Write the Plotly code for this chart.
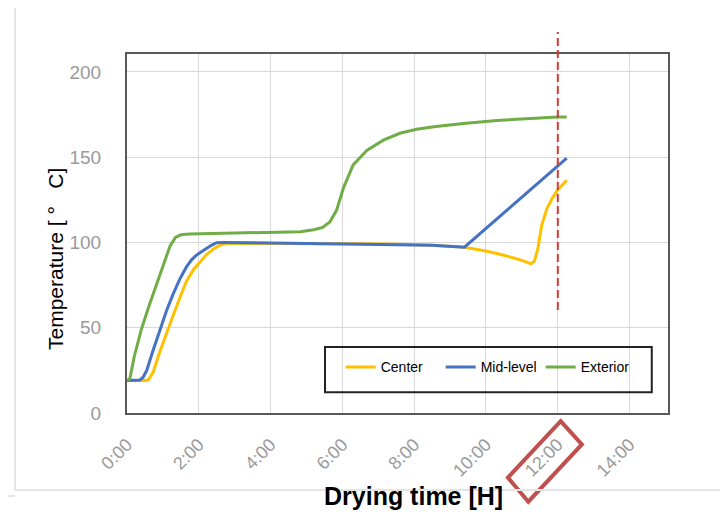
import plotly.graph_objects as go

# ---------------- data ----------------
center_t = [0, 0.3, 0.5, 0.6, 0.73, 0.9, 1.1, 1.3, 1.48, 1.65, 1.85, 2.05, 2.22, 2.4, 2.6, 2.8,
            3.5, 4.5, 5.5, 6.5, 7.5, 8.5, 9.4, 10.0, 10.5, 11.0, 11.25, 11.35, 11.45, 11.55,
            11.7, 11.85, 12.0, 12.25]
center_T = [19, 19, 19, 19.5, 24, 35, 47, 58, 68, 77, 84, 89, 93, 96, 98.5, 99.5,
            99.5, 99.5, 99.5, 99.3, 99, 98.3, 97.2, 95, 92.5, 89.5, 87.5, 89, 97, 110,
            120, 126, 131, 136.5]

mid_t = [0, 0.2, 0.36, 0.45, 0.55, 0.7, 0.92, 1.1, 1.29, 1.47, 1.66, 1.8, 1.94, 2.1, 2.22,
         2.35, 2.5, 2.7, 3.5, 4.5, 5.5, 6.5, 7.5, 8.5, 9.4, 12.25]
mid_T = [19, 19, 19.4, 21, 25, 35, 48.7, 60, 70, 78.5, 85.8, 89.8, 92.7, 95, 96.6,
         98.3, 99.9, 100, 99.8, 99.5, 99.5, 99.3, 99, 98.3, 97.2, 149.4]

ext_t = [0, 0.08, 0.2, 0.4, 0.6, 0.75, 1.0, 1.2, 1.35, 1.5, 1.75, 2.5, 3.5, 4.5, 4.82, 5.2,
         5.45, 5.65, 5.84, 6.03, 6.3, 6.68, 7.14, 7.6, 8.07, 8.6, 9.37, 10.3, 11.2, 12.0, 12.25]
ext_T = [19, 20, 33, 49, 62, 71, 86, 98, 103, 104.5, 105, 105.3, 105.5, 106, 106.3, 107.5,
         108.8, 112, 119, 132, 145.5, 154, 160, 164, 166.4, 168, 169.8, 171.5, 172.8, 173.6, 173.6]

series_names = ["Center", "Mid-level", "Exterior"]
x_tick_vals = [0, 2, 4, 6, 8, 10, 12, 14]
x_tick_text = ["0:00", "2:00", "4:00", "6:00", "8:00", "10:00", "12:00", "14:00"]
y_tick_vals = [0, 50, 100, 150, 200]
marker_hour = 12

# ---------------- figure ----------------
FONT = "Arial, Liberation Sans, sans-serif"
colors = ["#FFC000", "#4472C4", "#70AD47"]

fig = go.Figure()
for name, t, T, c in zip(series_names, [center_t, mid_t, ext_t], [center_T, mid_T, ext_T], colors):
    fig.add_trace(go.Scatter(x=t, y=T, mode="lines", name=name,
                             line=dict(color=c, width=3)))

# page body has an 8px margin, so plot area = page px 127..668 x 54..413
fig.update_layout(
    width=728, height=512,
    margin=dict(l=119, r=68, t=46, b=107),
    paper_bgcolor="white", plot_bgcolor="white",
    font=dict(family=FONT, color="black"),
    showlegend=True,
    legend=dict(orientation="h", x=0.395, y=0.127, xanchor="left", yanchor="middle",
                bgcolor="rgba(0,0,0,0)", borderwidth=0,
                font=dict(size=14, family=FONT, color="black"),
                entrywidth=55, itemwidth=30),
)

fig.update_xaxes(range=[0, 15.07], tickvals=x_tick_vals, ticktext=x_tick_text,
                 tickangle=-45, tickfont=dict(size=18, color="#9a9a9a", family=FONT),
                 showgrid=True, gridcolor="#d9d9d9", gridwidth=1,
                 showline=True, linecolor="#595959", linewidth=2, mirror=True,
                 ticks="", ticklabelstandoff=12, zeroline=False)
fig.update_yaxes(range=[0, 210.5], tickvals=y_tick_vals,
                 tickfont=dict(size=19, color="#9a9a9a", family=FONT),
                 showgrid=True, gridcolor="#d9d9d9", gridwidth=1,
                 showline=True, linecolor="#595959", linewidth=2, mirror=True,
                 ticks="", ticklabelstandoff=20, zeroline=False)

# y-axis title
fig.add_annotation(text="Temperature [\u00a0°\u00a0\u00a0\u00a0C]", xref="paper", yref="paper",
                   x=(55 - 127) / 541, y=(413 - 259) / 359, textangle=-90,
                   xanchor="center", yanchor="middle", showarrow=False,
                   font=dict(size=21, family=FONT, color="black"))

# legend frame
fig.add_shape(type="rect", xref="paper", yref="paper", x0=0.366, x1=0.97, y0=0.058, y1=0.184,
              line=dict(color="#222222", width=2), fillcolor="rgba(0,0,0,0)", layer="above")

# red dashed marker at 12:00
fig.add_shape(type="line", xref="x", yref="paper", x0=marker_hour, x1=marker_hour, y0=0.287, y1=1.061,
              line=dict(color="#d23a34", width=2, dash="8px,4px"), layer="above")

# red box around the 12:00 tick label
fig.add_shape(type="path", xref="x", yref="paper",
              path="M 12.08 -0.0226 L 12.67 -0.0875 L 11.18 -0.247 L 10.61 -0.180 Z",
              line=dict(color="#c0504d", width=4), fillcolor="rgba(0,0,0,0)", layer="above")

# x-axis title
fig.add_annotation(text="<b>Drying time [H]</b>", xref="paper", yref="paper",
                   x=(413 - 127) / 541, y=(413 - 496) / 359,
                   xanchor="center", yanchor="middle", showarrow=False,
                   font=dict(size=25, family=FONT, color="black"))

# faint screenshot frame lines (page px)
for (x0, y0, x1, y1) in [(15, 0, 15, 490), (15, 490, 728, 490), (723, 0, 723, 490),
                         (0, 496, 15, 496), (15, 1, 728, 1)]:
    fig.add_shape(type="line", xref="paper", yref="paper",
                  x0=(x0 - 127) / 541, x1=(x1 - 127) / 541,
                  y0=(413 - y0) / 359, y1=(413 - y1) / 359,
                  line=dict(color="#e4e4e4", width=2))

fig.write_html("out.html")
